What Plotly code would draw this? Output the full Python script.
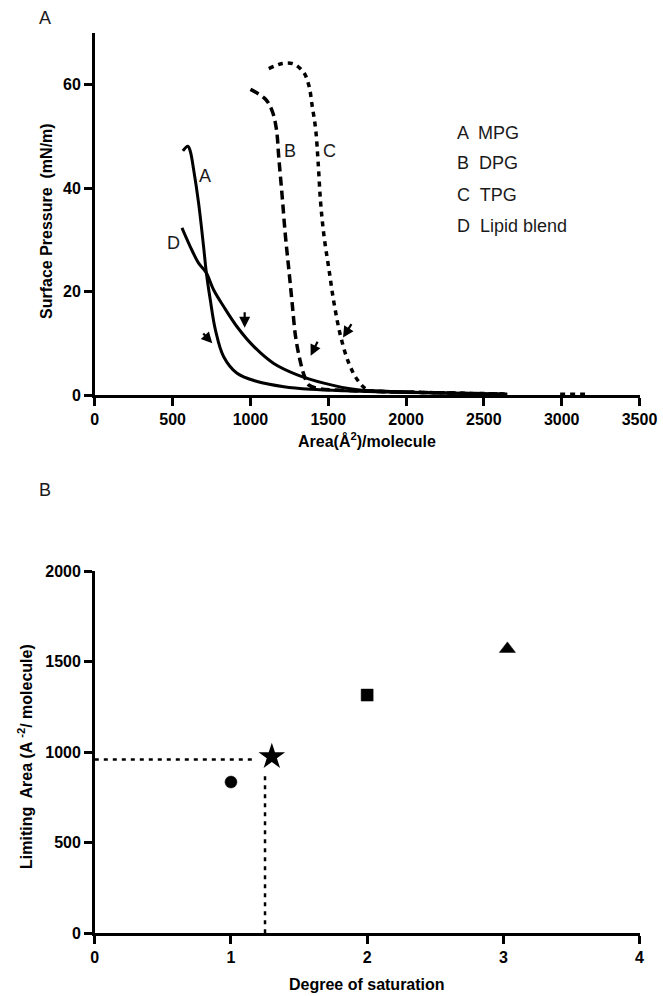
import plotly.graph_objects as go

# ---------------- Panel A data: surface pressure isotherms ----------------
mpg_area = [566, 598, 613, 635, 667, 699, 717, 742, 775, 828, 914, 1043, 1215, 1387, 1600, 2000, 2400, 2650]
mpg_pres = [47.2, 48.1, 47.2, 43.6, 37.1, 28.7, 23.6, 18.4, 12.6, 7.4, 4.2, 2.6, 1.6, 1.1, 0.8, 0.5, 0.3, 0.1]

dpg_area = [1000, 1097, 1140, 1167, 1182, 1204, 1225, 1247, 1268, 1290, 1318, 1344, 1376, 1450, 1600, 1800, 2100, 2600]
dpg_pres = [59.1, 57.2, 54.9, 51.4, 46.0, 38.4, 30.7, 24.2, 17.8, 11.3, 6.8, 3.9, 1.9, 1.2, 0.9, 0.7, 0.5, 0.2]

tpg_area = [1118, 1204, 1279, 1344, 1376, 1397, 1419, 1435, 1451, 1473, 1505, 1537, 1580, 1633, 1688, 1752, 1850, 2100, 2650, None, 2990, 3150]
tpg_pres = [63.1, 64.1, 64.0, 62.3, 59.8, 55.9, 51.4, 45.0, 37.2, 30.7, 24.2, 17.8, 11.3, 6.1, 2.9, 1.0, 0.7, 0.5, 0.2, None, 0.15, 0.15]

blend_area = [560, 613, 667, 717, 764, 828, 914, 1021, 1150, 1301, 1472, 1688, 1900, 2100, 2400, 2650]
blend_pres = [32.3, 28.7, 25.5, 23.6, 20.3, 17.1, 13.2, 9.4, 6.1, 3.9, 2.3, 1.0, 0.7, 0.5, 0.3, 0.2]

curve_letters = ["A", "B", "C", "D"]
curve_names = ["MPG", "DPG", "TPG", "Lipid blend"]
label_area = [709, 1253, 1511, 506]
label_pres = [42.3, 47.2, 47.2, 29.4]

# arrows: (tail area, tail pressure) -> (head area, head pressure)
arrow_tail_area = [688, 963, 1436, 1655]
arrow_tail_pres = [12.2, 16.3, 10.6, 14.0]
arrow_head_area = [755, 963, 1387, 1595]
arrow_head_pres = [10.0, 13.0, 7.6, 11.1]

xA_ticks = [0, 500, 1000, 1500, 2000, 2500, 3000, 3500]
yA_ticks = [0, 20, 40, 60]

# ---------------- Panel B data: limiting area ----------------
sat_deg = [1.0, 2.0, 3.03]
lim_area = [835, 1315, 1570]
sat_symbols = ["circle", "square", "triangle-up"]
sat_sizes = [12, 12, 14]
blend_sat = [1.3]
blend_lim = [975]
guide_h_x = [0, 1.17]
guide_h_y = [960, 960]
guide_v_x = [1.25, 1.25]
guide_v_y = [0, 870]

xB_ticks = [0, 1, 2, 3, 4]
yB_ticks = [0, 500, 1000, 1500, 2000]

W, H = 663, 996
FONT = "Arial, Liberation Sans, sans-serif"

fig = go.Figure()

line_kw = dict(color="black", width=3)
fig.add_trace(go.Scatter(x=mpg_area, y=mpg_pres, mode="lines", line=dict(line_kw, shape="spline"),
                         xaxis="x", yaxis="y", showlegend=False, hoverinfo="skip"))
fig.add_trace(go.Scatter(x=blend_area, y=blend_pres, mode="lines", line=dict(line_kw, shape="spline"),
                         xaxis="x", yaxis="y", showlegend=False, hoverinfo="skip"))
fig.add_trace(go.Scatter(x=dpg_area, y=dpg_pres, mode="lines",
                         line=dict(color="black", width=3.5, dash="9px,5px", shape="spline"),
                         xaxis="x", yaxis="y", showlegend=False, hoverinfo="skip"))
fig.add_trace(go.Scatter(x=tpg_area, y=tpg_pres, mode="lines", connectgaps=False,
                         line=dict(color="black", width=3.5, dash="5px,5px", shape="spline"),
                         xaxis="x", yaxis="y", showlegend=False, hoverinfo="skip"))

# Panel B
fig.add_trace(go.Scatter(x=guide_h_x, y=guide_h_y, mode="lines",
                         line=dict(color="black", width=2.5, dash="4px,5px"),
                         xaxis="x2", yaxis="y2", showlegend=False, hoverinfo="skip"))
fig.add_trace(go.Scatter(x=guide_v_x, y=guide_v_y, mode="lines",
                         line=dict(color="black", width=2.5, dash="4px,5px"),
                         xaxis="x2", yaxis="y2", showlegend=False, hoverinfo="skip"))
fig.add_trace(go.Scatter(x=sat_deg, y=lim_area, mode="markers",
                         marker=dict(color="black", symbol=sat_symbols, size=sat_sizes, opacity=1,
                                     line=dict(color="black", width=0.5)),
                         xaxis="x2", yaxis="y2", showlegend=False, hoverinfo="skip"))
fig.add_trace(go.Scatter(x=blend_sat, y=blend_lim, mode="markers",
                         marker=dict(color="black", symbol="star", size=20, opacity=1),
                         xaxis="x2", yaxis="y2", showlegend=False, hoverinfo="skip"))

ax_common = dict(showline=True, linewidth=2.5, linecolor="black", ticks="outside",
                 ticklen=8, tickwidth=2.5, tickcolor="black", showgrid=False, zeroline=False,
                 automargin=False,
                 tickfont=dict(family=FONT, size=16, color="black", weight="bold"))

xdom = [94.8 / W, 639.5 / W]
fig.update_layout(
    template="none",
    width=W, height=H, autosize=False,
    margin=dict(l=0, r=0, t=0, b=0, pad=0),
    paper_bgcolor="white", plot_bgcolor="white",
    xaxis=dict(ax_common, domain=xdom, range=[0, 3500], tickvals=xA_ticks, anchor="y"),
    yaxis=dict(ax_common, domain=[(H - 395) / H, (H - 33) / H], range=[0, 70], tickvals=yA_ticks, anchor="x"),
    xaxis2=dict(ax_common, domain=xdom, range=[0, 4], tickvals=xB_ticks, anchor="y2"),
    yaxis2=dict(ax_common, domain=[(H - 933.3) / H, (H - 571) / H], range=[0, 2000], tickvals=yB_ticks, anchor="x2"),
)

annots = []
txt_font = dict(family=FONT, size=18, color="#1a1a1a")
bold_font = dict(family=FONT, size=16, color="black", weight="bold")

# curve letters
for L, a, p in zip(curve_letters, label_area, label_pres):
    annots.append(dict(x=a, y=p, xref="x", yref="y", text=L, showarrow=False, font=txt_font,
                       xanchor="center", yanchor="middle"))
# legend-like text block
leg_y = [50.7, 44.9, 38.8, 32.8]
for L, name, yy in zip(curve_letters, curve_names, leg_y):
    annots.append(dict(x=455 / W, y=1 - (395 - yy * 5.16) / H, xref="paper", yref="paper",
                       text=L + "  " + name, showarrow=False, font=txt_font,
                       xanchor="left", yanchor="middle"))
# arrows
for ta, tp, ha, hp in zip(arrow_tail_area, arrow_tail_pres, arrow_head_area, arrow_head_pres):
    annots.append(dict(x=ha, y=hp, ax=ta, ay=tp, xref="x", yref="y", axref="x", ayref="y",
                       text="", showarrow=True, arrowhead=2, arrowsize=1.0, arrowwidth=2.2,
                       arrowcolor="black"))
# panel labels
annots.append(dict(x=45 / W, y=1 - 18 / H, xref="paper", yref="paper", text="A", showarrow=False,
                   font=txt_font, xanchor="center", yanchor="middle"))
annots.append(dict(x=45 / W, y=1 - 490 / H, xref="paper", yref="paper", text="B", showarrow=False,
                   font=txt_font, xanchor="center", yanchor="middle"))
# axis titles
annots.append(dict(x=367 / W, y=1 - 440 / H, xref="paper", yref="paper",
                   text="Area(Å<sup>2</sup>)/molecule", showarrow=False, font=bold_font,
                   xanchor="center", yanchor="middle"))
annots.append(dict(x=47 / W, y=1 - 221 / H, xref="paper", yref="paper",
                   text="Surface Pressure  (mN/m)", showarrow=False, font=bold_font, textangle=-90,
                   xanchor="center", yanchor="middle"))
annots.append(dict(x=367 / W, y=1 - 984 / H, xref="paper", yref="paper",
                   text="Degree of saturation", showarrow=False, font=bold_font,
                   xanchor="center", yanchor="middle"))
annots.append(dict(x=25 / W, y=1 - 757 / H, xref="paper", yref="paper",
                   text="Limiting  Area (A <sup>-2</sup>/ molecule)", showarrow=False, font=bold_font,
                   textangle=-90, xanchor="center", yanchor="middle"))

fig.update_layout(annotations=annots)
fig.write_html("out.html", config={"displayModeBar": False},
               post_script="document.body.style.margin='0';document.body.style.overflow='hidden';")
